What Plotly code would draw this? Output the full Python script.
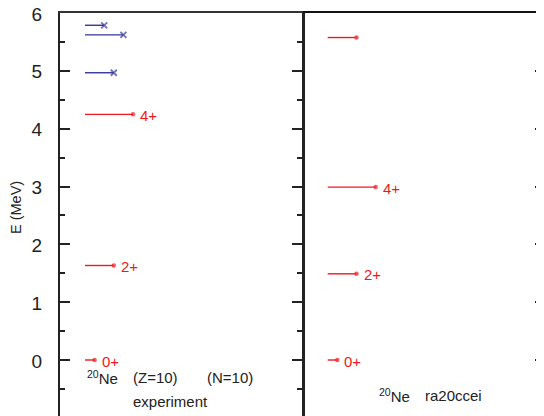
import plotly.graph_objects as go

# ---- data ----
exp_energy = [0.0, 1.634, 4.248]
exp_spin = [0, 2, 4]
exp_label = ["0+", "2+", "4+"]
exp_neg_energy = [4.967, 5.621, 5.788]
exp_neg_spin = [2, 3, 1]
th_energy = [0.0, 1.49, 2.99, 5.576]
th_spin = [0, 2, 4, 2]
th_label = ["0+", "2+", "4+", ""]
y_ticks = [0, 1, 2, 3, 4, 5, 6]

RED = "rgb(240,24,32)"
BLUE = "rgb(52,52,150)"
AX = "#222222"
FONT = "Liberation Sans, Arial, Helvetica, sans-serif"

W, H = 544, 416
OFF = 8                      # page body margin
ML = 60 - OFF                # left axis at screen x=60
MT = 13 - OFF                # top border at screen y=13
MR = W - (547 - OFF)         # right border just off-screen
PW = W - ML - MR
SPLIT = 243 / PW
UNIT = 9.6                   # px per x unit
PXMEV = (360 - 13) / 6       # px per MeV

fig = go.Figure()


def add_levels(energies, spins, labels, color, symbol, xa, msize, mline):
    for e, j, lab in zip(energies, spins, labels):
        fig.add_trace(go.Scatter(
            x=[0, j + 1], y=[e, e], xaxis=xa, yaxis="y",
            mode="lines+markers",
            line=dict(color=color, width=1.4),
            marker=dict(color=color, size=[0, msize], symbol=symbol,
                        line=dict(width=mline, color=color)),
            showlegend=False, hoverinfo="skip", cliponaxis=False,
        ))
        if lab:
            fig.add_annotation(x=j + 1, y=e, xref=xa, yref="y", text=lab,
                               showarrow=False, xanchor="left",
                               yanchor="middle", xshift=5, yshift=-1,
                               font=dict(color=color, size=15, family=FONT))


add_levels(exp_energy, exp_spin, exp_label, RED, "circle", "x", 4.5, 0)
add_levels(exp_neg_energy, exp_neg_spin, [""] * 3, BLUE, "x-thin-open",
           "x", 6, 1.8)
add_levels(th_energy, th_spin, th_label, RED, "circle", "x2", 4.5, 0)

# dummy traces to realise extra tick axes
fig.add_trace(go.Scatter(x=[None], y=[None], xaxis="x", yaxis="y2",
                         showlegend=False, hoverinfo="skip"))
fig.add_trace(go.Scatter(x=[None], y=[None], xaxis="x2", yaxis="y3",
                         showlegend=False, hoverinfo="skip"))

y0 = 6 - (H - MT) / PXMEV
yr = [y0, 6.0001]

xl_left = -25 / UNIT
xr_left = xl_left + 243 / UNIT
xl_right = -24.7 / UNIT
xr_right = xl_right + (PW - 243) / UNIT

common_y = dict(range=yr, showgrid=False, zeroline=False, automargin=False)
minor_in = dict(ticks="inside", ticklen=5, dtick=0.5, tick0=0,
                tickwidth=1.6, tickcolor=AX)

fig.update_layout(
    width=W, height=H,
    margin=dict(l=ML, r=MR, t=MT, b=0),
    paper_bgcolor="white", plot_bgcolor="white",
    font=dict(family=FONT, color=AX),
    xaxis=dict(domain=[0, SPLIT], range=[xl_left, xr_left], side="top",
               showline=True, linewidth=2.2, linecolor="#333", ticks="",
               showticklabels=False, showgrid=False, zeroline=False,
               anchor="y", automargin=False),
    xaxis2=dict(domain=[SPLIT, 1], range=[xl_right, xr_right], side="top",
                showline=True, linewidth=2.4, linecolor="#111", ticks="",
                showticklabels=False, showgrid=False, zeroline=False,
                anchor="y", automargin=False),
    yaxis=dict(**common_y, anchor="x", tickvals=y_ticks, ticks="inside",
               ticklen=10, tickwidth=1.6, tickcolor=AX,
               showline=True, linewidth=2.2, linecolor=AX,
               tickfont=dict(size=19, color=AX, family=FONT),
               ticklabelstandoff=12, ticklabeloverflow="allow",
               ticklabelshift=1, minor=minor_in),
    yaxis2=dict(**common_y, overlaying="y", anchor="free", position=SPLIT,
                side="right", tickvals=y_ticks, ticks="inside", ticklen=10,
                tickwidth=1.6, tickcolor=AX, showline=True, linewidth=3,
                linecolor=AX, showticklabels=False, minor=minor_in),
    yaxis3=dict(**common_y, overlaying="y", anchor="free", position=1,
                side="right", tickvals=y_ticks, ticks="inside", ticklen=11,
                tickwidth=1.6, tickcolor=AX, showline=True, linewidth=2.2,
                linecolor=AX, showticklabels=False, minor=minor_in),
)

ann_font = dict(size=15, color=AX, family=FONT)
texts = [
    ("x", 0.0, -0.31, "<sup>20</sup>Ne"),
    ("x", 4.75, -0.31, "(Z=10)"),
    ("x", 12.5, -0.31, "(N=10)"),
    ("x", 4.75, -0.72, "experiment"),
    ("x2", 5.15, -0.62, "<sup>20</sup>Ne"),
    ("x2", 9.9, -0.62, "ra20ccei"),
]
for xr, xv, yv, t in texts:
    fig.add_annotation(x=xv, y=yv, xref=xr, yref="y", text=t, showarrow=False,
                       xanchor="left", yanchor="middle", font=ann_font)

PH = H - MT
fig.add_annotation(x=(16 - OFF - ML) / PW, y=(H - (208 - OFF)) / PH,
                   xref="paper", yref="paper", text="E (MeV)", textangle=-90,
                   showarrow=False, xanchor="center", yanchor="middle",
                   font=dict(size=14.5, color=AX, family=FONT))

fig.write_html("out.html")
